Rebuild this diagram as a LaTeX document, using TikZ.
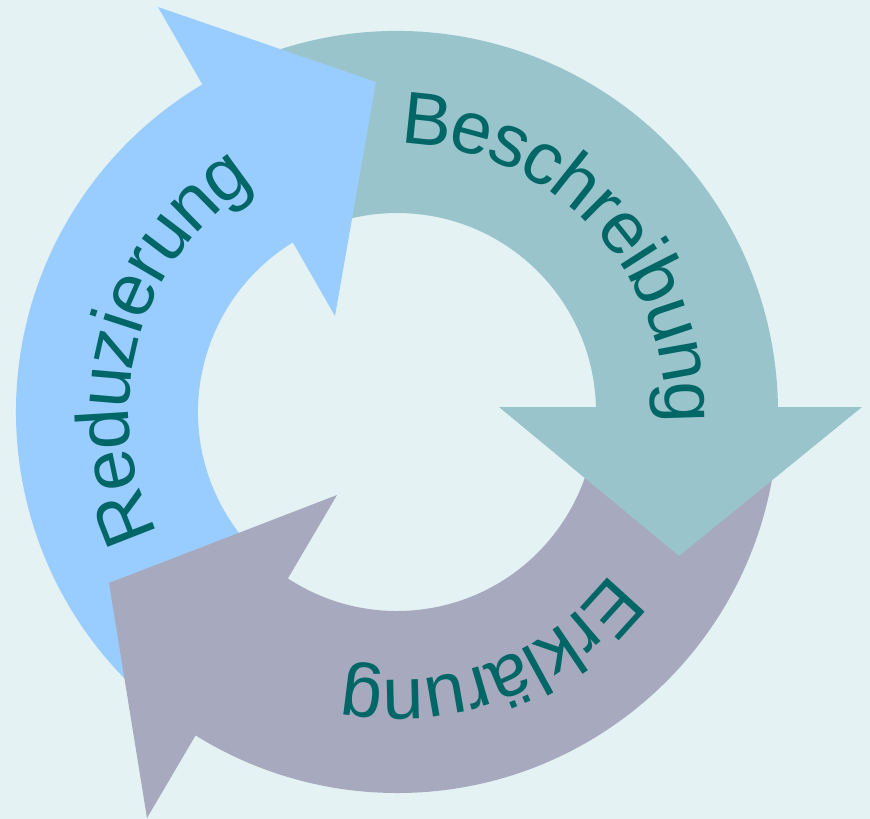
\documentclass[tikz,border=0pt]{standalone}
\usepackage{fontspec}
\setmainfont{Liberation Sans}
\usetikzlibrary{decorations.text}
\definecolor{bgcyan}{RGB}{228,242,243}
\definecolor{beschcol}{RGB}{153,196,204}
\definecolor{reducol}{RGB}{153,204,255}
\definecolor{erklcol}{RGB}{167,169,190}
\definecolor{labelcol}{RGB}{0,102,102}

\begin{document}
\begin{tikzpicture}[x=0.02cm,y=0.02cm,
  arctext/.style={decorate,decoration={text along path,text align=center,raise=-0.32cm,
    text={|\fontsize{42.1}{50}\selectfont\color{labelcol}|#1}}}]
\useasboundingbox (-397,-407) rectangle (473,412);
\fill[bgcyan] (-397,-407) rectangle (473,412);
% ring pieces
\fill[beschcol] (116:381) arc[start angle=116,end angle=-3,radius=381] -- (-3:199) arc[start angle=-3,end angle=116,radius=199] -- cycle;
\fill[reducol] (234:381) arc[start angle=234,end angle=118,radius=381] -- (118:199) arc[start angle=118,end angle=234,radius=199] -- cycle;
\fill[erklcol] (356:381) arc[start angle=356,end angle=234,radius=381] -- (234:199) arc[start angle=234,end angle=356,radius=199] -- cycle;
% arrow heads
\fill[beschcol] (102,5) -- (465,5) -- (282,-144) -- cycle;
\fill[reducol] (-62,96) -- (-239,405) -- (-21,330) -- cycle;
\fill[erklcol] (-60,-83) -- (-250,-406) -- (-288,-171) -- cycle;
% labels
\path[arctext=Beschreibung] (133.4:284) arc[start angle=133.4,end angle=-46.6,radius=284];
\path[arctext=Reduzierung] (254.4:284) arc[start angle=254.4,end angle=74.4,radius=284];
\path[arctext=Erklärung] (20.8:284) arc[start angle=20.8,end angle=-159.2,radius=284];
\end{tikzpicture}
\end{document}
